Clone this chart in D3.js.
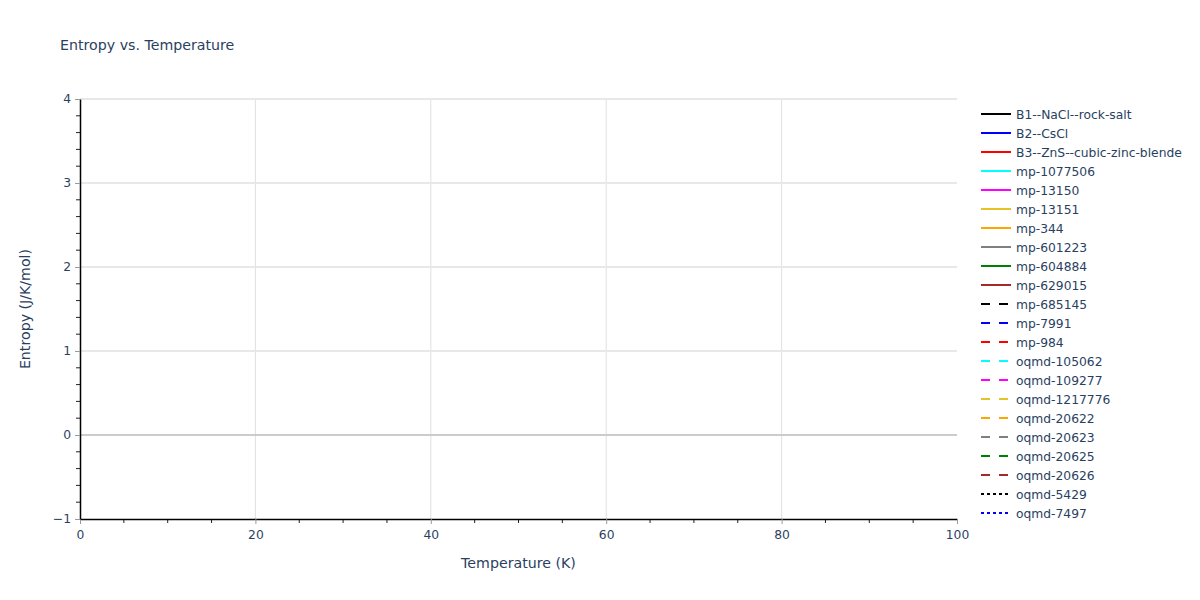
<!DOCTYPE html>
<html>
<head>
<meta charset="utf-8">
<script src="https://cdn.jsdelivr.net/npm/d3@7"></script>
<style>
  body { margin: 0; background: #fff; }
  text { font-family: "DejaVu Sans", Verdana, sans-serif; fill: #2a3f5f; }
</style>
</head>
<body>
<div id="chart"></div>
<script>
const xDomain = [0, 100];
const yDomain = [-1, 4];
const xTicks = [0, 20, 40, 60, 80, 100];
const yTicks = [-1, 0, 1, 2, 3, 4];

const seriesNames = [
  "B1--NaCl--rock-salt", "B2--CsCl", "B3--ZnS--cubic-zinc-blende",
  "mp-1077506", "mp-13150", "mp-13151", "mp-344", "mp-601223", "mp-604884",
  "mp-629015", "mp-685145", "mp-7991", "mp-984", "oqmd-105062", "oqmd-109277",
  "oqmd-1217776", "oqmd-20622", "oqmd-20623", "oqmd-20625", "oqmd-20626",
  "oqmd-5429", "oqmd-7497"
];
const seriesColors = [
  "black", "blue", "red", "cyan", "magenta", "#e6c229", "orange", "gray", "green",
  "brown", "black", "blue", "red", "cyan", "magenta", "#e6c229", "orange", "gray",
  "green", "brown", "black", "blue"
];
const seriesDash = [
  "solid", "solid", "solid", "solid", "solid", "solid", "solid", "solid", "solid",
  "solid", "dash", "dash", "dash", "dash", "dash", "dash", "dash", "dash",
  "dash", "dash", "dot", "dot"
];

const width = 1200, height = 600;
const margin = { left: 80, right: 243, top: 99, bottom: 81 };

const svg = d3.select("#chart").append("svg")
  .attr("width", width).attr("height", height);

const x = d3.scaleLinear().domain(xDomain).range([margin.left, width - margin.right]);
const y = d3.scaleLinear().domain(yDomain).range([height - margin.bottom, margin.top]);

// grid
svg.append("g").selectAll("line")
  .data(xTicks.filter(d => d > xDomain[0] && d < xDomain[1]))
  .enter().append("line")
  .attr("x1", d => x(d)).attr("x2", d => x(d))
  .attr("y1", y(yDomain[0])).attr("y2", y(yDomain[1]))
  .attr("stroke", "#e0e0e0").attr("stroke-width", 1);

svg.append("g").selectAll("line")
  .data(yTicks.filter(d => d > yDomain[0] && d !== 0))
  .enter().append("line")
  .attr("x1", x(xDomain[0])).attr("x2", x(xDomain[1]))
  .attr("y1", d => y(d)).attr("y2", d => y(d))
  .attr("stroke", "#e8e8e8").attr("stroke-width", 2);

// zero line
svg.append("line")
  .attr("x1", x(xDomain[0])).attr("x2", x(xDomain[1]))
  .attr("y1", y(0)).attr("y2", y(0))
  .attr("stroke", "#cccccc").attr("stroke-width", 2);

// minor ticks
const xMinor = d3.range(5, 100, 5).filter(d => d % 20 !== 0);
svg.append("g").selectAll("line").data(xMinor).enter().append("line")
  .attr("x1", d => x(d)).attr("x2", d => x(d))
  .attr("y1", y(yDomain[0])).attr("y2", y(yDomain[0]) + 4)
  .attr("stroke", "#222");
const yMinor = d3.range(-0.8, 4, 0.2).filter(d => Math.abs(d - Math.round(d)) > 0.01);
svg.append("g").selectAll("line").data(yMinor).enter().append("line")
  .attr("x1", x(xDomain[0]) - 4).attr("x2", x(xDomain[0]))
  .attr("y1", d => y(d)).attr("y2", d => y(d))
  .attr("stroke", "#222");

// axes
const xAxis = svg.append("g")
  .attr("transform", `translate(0,${y(yDomain[0])})`)
  .call(d3.axisBottom(x).tickValues(xTicks).tickSize(5).tickSizeOuter(0)
    .tickPadding(6).tickFormat(d3.format("d")));
const yAxis = svg.append("g")
  .attr("transform", `translate(${x(xDomain[0])},0)`)
  .call(d3.axisLeft(y).tickValues(yTicks).tickSize(5).tickSizeOuter(0).tickPadding(4)
    .tickFormat(d => d < 0 ? "\u2212" + Math.abs(d) : d));

[xAxis, yAxis].forEach(a => {
  a.select(".domain").attr("stroke", "#000").attr("stroke-width", 1.5);
  a.selectAll(".tick line").attr("stroke", "#999");
  a.selectAll(".tick text").attr("fill", "#2a3f5f").style("font-size", "12.3px")
    .style("font-family", '"DejaVu Sans", Verdana, sans-serif');
});

// titles
svg.append("text").attr("x", 60).attr("y", 50)
  .style("font-size", "14.2px").text("Entropy vs. Temperature");

svg.append("text")
  .attr("x", x(50)).attr("y", 568)
  .attr("text-anchor", "middle").style("font-size", "14.2px")
  .text("Temperature (K)");

svg.append("text")
  .attr("transform", `translate(30,${y(1.5)}) rotate(-90)`)
  .attr("text-anchor", "middle").style("font-size", "14.2px")
  .text("Entropy (J/K/mol)");

// legend
const dashArray = { solid: null, dash: "9,9", dot: "3,3" };
const legend = svg.append("g").attr("transform", "translate(981,114)");
const item = legend.selectAll("g").data(seriesNames).enter().append("g")
  .attr("transform", (d, i) => `translate(0,${i * 19})`);
item.append("line")
  .attr("x1", 0).attr("x2", 30).attr("y1", 0).attr("y2", 0)
  .attr("stroke", (d, i) => seriesColors[i])
  .attr("stroke-width", 2)
  .attr("stroke-dasharray", (d, i) => dashArray[seriesDash[i]]);
item.append("text")
  .attr("x", 35).attr("y", 4.5)
  .style("font-size", "12.3px")
  .text(d => d);
</script>
</body>
</html>
